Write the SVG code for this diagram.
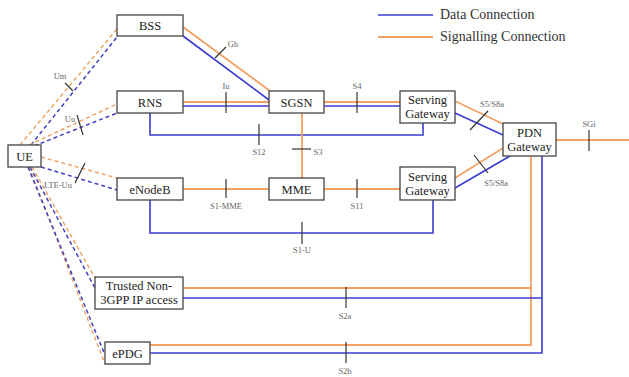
<svg xmlns="http://www.w3.org/2000/svg" width="629" height="377" viewBox="0 0 629 377">
<style>
.box{fill:#fff;stroke:#444;stroke-width:1.3}
.nt{font-family:"Liberation Serif","Times New Roman",serif;font-size:12.5px;fill:#222;text-anchor:middle}
.lt{font-family:"Liberation Serif","Times New Roman",serif;font-size:14px;fill:#333}
.sl{font-family:"Liberation Serif","Times New Roman",serif;font-size:8.5px;fill:#666;text-anchor:middle}
.d{stroke:#3c3cd0;stroke-width:1.6;fill:none}
.s{stroke:#f2a063;stroke-width:1.8;fill:none}
.dd{stroke:#4040c0;stroke-width:1.5;fill:none;stroke-dasharray:4 3}
.sd{stroke:#eca566;stroke-width:1.5;fill:none;stroke-dasharray:4 3}
.tk{stroke:#333;stroke-width:1.2;fill:none}
</style>
<rect width="629" height="377" fill="#fff"/>
<g id="legend">
<line x1="378" y1="15" x2="433" y2="15" class="d"/>
<line x1="378" y1="37" x2="433" y2="37" class="s"/>
<text x="440" y="19" class="lt">Data Connection</text>
<text x="440" y="41" class="lt">Signalling Connection</text>
</g>
<g id="connectors">
<!-- UE radio dashed -->
<line x1="20" y1="145" x2="117" y2="29" class="sd"/>
<line x1="31" y1="145" x2="117" y2="37" class="dd"/>
<line x1="29" y1="145" x2="117" y2="104" class="sd"/>
<line x1="34" y1="146" x2="117" y2="113" class="dd"/>
<line x1="41" y1="157" x2="117" y2="178" class="sd"/>
<line x1="41" y1="167" x2="117" y2="190" class="dd"/>
<line x1="32" y1="167" x2="95" y2="278" class="sd"/>
<line x1="30" y1="167" x2="95" y2="288" class="dd"/>
<line x1="29" y1="167" x2="105" y2="364" class="sd"/>
<line x1="28" y1="167" x2="105" y2="355" class="dd"/>
<!-- BSS-SGSN -->
<line x1="183" y1="27" x2="270" y2="91" class="s"/>
<line x1="183" y1="36" x2="269" y2="100" class="d"/>
<!-- RNS-SGSN -->
<line x1="183" y1="102" x2="269" y2="102" class="s"/>
<line x1="183" y1="106" x2="269" y2="106" class="d"/>
<!-- RNS-SGW S12 -->
<polyline points="150,113 150,135 423,135 423,123" class="d"/>
<!-- SGSN-SGW S4 -->
<line x1="324" y1="102" x2="400" y2="102" class="s"/>
<line x1="324" y1="106" x2="400" y2="106" class="d"/>
<!-- SGSN-MME S3 -->
<line x1="302" y1="113" x2="302" y2="178" class="s"/>
<!-- eNodeB-MME, MME-SGW -->
<line x1="183" y1="189" x2="269" y2="189" class="s"/>
<line x1="324" y1="189" x2="400" y2="189" class="s"/>
<!-- S1-U -->
<polyline points="150,200 150,233 433,233 433,200" class="d"/>
<!-- SGW-PDN -->
<line x1="455" y1="101" x2="503" y2="124" class="s"/>
<line x1="455" y1="113" x2="503" y2="135" class="d"/>
<line x1="455" y1="178" x2="503" y2="148" class="s"/>
<line x1="455" y1="188" x2="510" y2="156" class="d"/>
<!-- SGi -->
<line x1="556" y1="140" x2="629" y2="140" class="s"/>
<!-- S2a / S2b -->
<polyline points="183,288 531,288" class="s"/>
<polyline points="531,156 531,345 150,345" class="s"/>
<polyline points="183,298 542,298" class="d"/>
<polyline points="542,156 542,353 150,353" class="d"/>
<!-- ticks -->
<line x1="65" y1="83" x2="73" y2="91" class="tk"/>
<line x1="77" y1="115" x2="83" y2="135" class="tk"/>
<line x1="85" y1="163" x2="75" y2="183" class="tk"/>
<line x1="215" y1="58" x2="226" y2="47" class="tk"/>
<line x1="226" y1="92" x2="226" y2="113" class="tk"/>
<line x1="357" y1="92" x2="357" y2="113" class="tk"/>
<line x1="259" y1="124" x2="259" y2="145" class="tk"/>
<line x1="292" y1="149" x2="311" y2="149" class="tk"/>
<line x1="226" y1="179" x2="226" y2="198" class="tk"/>
<line x1="357" y1="179" x2="357" y2="198" class="tk"/>
<line x1="302" y1="222" x2="302" y2="244" class="tk"/>
<line x1="470" y1="130" x2="488" y2="111" class="tk"/>
<line x1="474" y1="155" x2="488" y2="173" class="tk"/>
<line x1="589" y1="130" x2="589" y2="151" class="tk"/>
<line x1="346" y1="287" x2="346" y2="308" class="tk"/>
<line x1="346" y1="342" x2="346" y2="363" class="tk"/>
<!-- labels -->
<text x="60" y="79" class="sl">Um</text>
<text x="70" y="122" class="sl">Uu</text>
<text x="58" y="188" class="sl">LTE-Uu</text>
<text x="233" y="47" class="sl">Gb</text>
<text x="226" y="89" class="sl">Iu</text>
<text x="357" y="89" class="sl">S4</text>
<text x="259" y="155" class="sl">S12</text>
<text x="318" y="155" class="sl">S3</text>
<text x="226" y="209" class="sl">S1-MME</text>
<text x="357" y="209" class="sl">S11</text>
<text x="302" y="253" class="sl">S1-U</text>
<text x="492" y="107" class="sl">S5/S8a</text>
<text x="496" y="186" class="sl">S5/S8a</text>
<text x="589" y="127" class="sl">SGi</text>
<text x="345" y="319" class="sl">S2a</text>
<text x="345" y="374" class="sl">S2b</text>
</g>
<g id="UE"><rect x="8" y="145" width="33" height="22" class="box"/><text x="24.5" y="160.5" class="nt">UE</text></g>
<g id="BSS"><rect x="117" y="15" width="66" height="21" class="box"/><text x="150" y="30" class="nt">BSS</text></g>
<g id="RNS"><rect x="117" y="91" width="66" height="22" class="box"/><text x="150" y="106.5" class="nt">RNS</text></g>
<g id="eNodeB"><rect x="117" y="178" width="66" height="22" class="box"/><text x="150" y="193.5" class="nt">eNodeB</text></g>
<g id="SGSN"><rect x="269" y="91" width="55" height="22" class="box"/><text x="296.5" y="106.5" class="nt">SGSN</text></g>
<g id="MME"><rect x="269" y="178" width="55" height="22" class="box"/><text x="296.5" y="193.5" class="nt">MME</text></g>
<g id="SGW1"><rect x="400" y="91" width="55" height="32" class="box"/><text x="427.5" y="104" class="nt">Serving</text><text x="427.5" y="118" class="nt">Gateway</text></g>
<g id="SGW2"><rect x="400" y="167" width="55" height="33" class="box"/><text x="427.5" y="180.5" class="nt">Serving</text><text x="427.5" y="194.5" class="nt">Gateway</text></g>
<g id="PDNGW"><rect x="503" y="123" width="53" height="33" class="box"/><text x="529.5" y="137" class="nt">PDN</text><text x="529.5" y="151" class="nt">Gateway</text></g>
<g id="Trusted"><rect x="95" y="277" width="88" height="32" class="box"/><text x="139" y="290" class="nt">Trusted Non-</text><text x="139" y="304" class="nt">3GPP IP access</text></g>
<g id="ePDG"><rect x="105" y="342" width="45" height="22" class="box"/><text x="127.5" y="357.5" class="nt">ePDG</text></g>
</svg>
